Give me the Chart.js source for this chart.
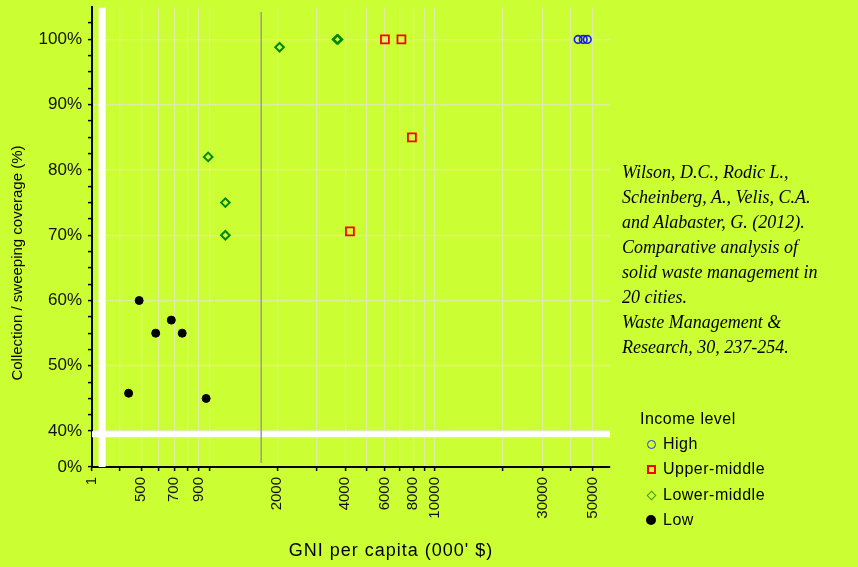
<!DOCTYPE html>
<html>
<head>
<meta charset="utf-8">
<script src="https://cdn.jsdelivr.net/npm/chart.js@4/dist/chart.umd.min.js"></script>
<style>
  body { margin: 0; background: #ccff33; }
  #wrap { position: relative; width: 858px; height: 567px; background: #ccff33; overflow: hidden;
          font-family: Arial, "Liberation Sans", sans-serif; color: #000; }
  #chart { position: absolute; left: 0; top: 0; }
  .txt { position: absolute; white-space: nowrap; }
  #ytitle { left: -113px; top: 254px; width: 260px; height: 18px; line-height: 18px; text-align: center;
            font-size: 15px; color: #000; transform: rotate(-90deg); }
  #xtitle { left: 391px; top: 550px; font-size: 18px; letter-spacing: 1px; transform: translate(-50%, -50%); }
  #cite { left: 622px; top: 160px; font-family: "Liberation Serif", "Times New Roman", serif; font-style: italic;
          font-size: 18px; line-height: 25px; white-space: pre; }
  .leg { position: absolute; left: 640px; font-size: 16px; letter-spacing: 0.5px; line-height: 20px; white-space: nowrap; }
  .mk { position: absolute; box-sizing: border-box; }
</style>
</head>
<body>
<div id="wrap">
  <canvas id="chart" width="858" height="567"></canvas>
  <div id="ytitle" class="txt">Collection / sweeping coverage (%)</div>
  <div id="xtitle" class="txt">GNI per capita (000' $)</div>
  <div id="cite" class="txt"></div>
  <div id="legend"></div>
</div>
<script>
// GNI per capita (x) and coverage % (y) per income group
const highGNI = [43000, 45300, 47200];
const highCov = [100, 100, 100];
const upperGNI = [6000, 7100, 7900, 4200];
const upperCov = [100, 100, 85, 70.6];
const lowerGNI = [990, 1180, 1180, 2050, 3680, 3720];
const lowerCov = [82, 75, 70, 98.8, 100, 100];
const lowGNI = [490, 680, 580, 760, 440, 970];
const lowCov = [60, 57, 55, 55, 45.8, 45];

const seriesNames = ["High", "Upper-middle", "Lower-middle", "Low"];

// axis ticks
const xGridValues = [400, 500, 600, 700, 800, 900, 1000, 2000, 3000, 4000, 5000, 6000, 7000, 8000, 9000, 10000, 20000, 30000, 40000, 50000];
const xLabelValues = [500, 700, 900, 2000, 4000, 6000, 8000, 10000, 30000, 50000];
const yLabelValues = [40, 50, 60, 70, 80, 90, 100];

// broken axes: left stub stands for "1", bottom stub for "0%"
const xMin = 303, xMax = 59500;
const yMin = 34.5, yMax = 104.9;
const xBreak = 336, yBreak = 39.5;
const divider = 1700;

const citation = [
  "Wilson, D.C., Rodic L.,",
  "Scheinberg, A., Velis, C.A.",
  "and Alabaster, G. (2012).",
  "Comparative analysis of",
  "solid waste management in",
  "20 cities.",
  "Waste Management &",
  "Research, 30, 237-254."
];

const gridColor = "#dfeaa6";
const toPoints = (xs, ys) => xs.map((x, i) => ({ x: x, y: ys[i] }));

document.getElementById("cite").textContent = citation.join("\n");

Chart.defaults.font.family = 'Arial, "Liberation Sans", sans-serif';
Chart.defaults.color = "#111";

const ctx = document.getElementById("chart").getContext("2d");
new Chart(ctx, {
  type: "scatter",
  data: {
    datasets: [
      {
        label: seriesNames[0], data: toPoints(highGNI, highCov), order: 0,
        pointStyle: "circle", radius: 3.8, borderColor: "#1515ff", backgroundColor: "transparent", borderWidth: 1.6,
      },
      {
        label: seriesNames[1], data: toPoints(upperGNI, upperCov), order: 0,
        pointStyle: "rect", radius: 5.6, borderColor: "#ff0000", backgroundColor: "transparent", borderWidth: 1.8,
      },
      {
        label: seriesNames[2], data: toPoints(lowerGNI, lowerCov), order: 0,
        pointStyle: "rectRot", radius: 4.3, borderColor: "#008a00", backgroundColor: "transparent", borderWidth: 2,
      },
      {
        label: seriesNames[3], data: toPoints(lowGNI, lowCov), order: 0,
        pointStyle: "circle", radius: 4, borderColor: "#000", backgroundColor: "#000", borderWidth: 1,
      },
      {
        label: "divider", data: [{ x: divider, y: 35.1 }, { x: divider, y: 104.2 }], order: 2,
        showLine: true, radius: 0, borderColor: "#9a9a9a", borderWidth: 1.5,
      },
      {
        label: "xbreak", data: [{ x: xBreak, y: yMin }, { x: xBreak, y: yMax }], order: 3,
        showLine: true, radius: 0, borderColor: "#ffffff", borderWidth: 7,
      },
      {
        label: "ybreak", data: [{ x: xMin, y: yBreak }, { x: xMax, y: yBreak }], order: 3,
        showLine: true, radius: 0, borderColor: "#ffffff", borderWidth: 6,
      },
    ],
  },
  options: {
    responsive: false,
    animation: false,
    events: [],
    layout: { padding: { left: 0, top: 5, right: 248, bottom: 0 } },
    plugins: {
      legend: { display: false },
      tooltip: { enabled: false },
    },
    scales: {
      x: {
        type: "logarithmic",
        min: xMin,
        max: xMax,
        afterBuildTicks: (scale) => {
          scale.ticks = [xMin].concat(xGridValues).map((v) => ({ value: v }));
        },
        afterFit: (scale) => {
          scale.height = 100;
          scale.paddingLeft = 0;
          scale.paddingRight = 0;
        },
        ticks: {
          autoSkip: false,
          maxRotation: 90,
          minRotation: 90,
          padding: 6,
          font: { size: 15 },
          color: "#111",
          callback: (value) => {
            if (value === xMin) return "1";
            return xLabelValues.includes(value) ? String(value) : "";
          },
        },
        grid: {
          color: (c) => (c.tick && xGridValues.includes(c.tick.value) ? gridColor : "transparent"),
          lineWidth: 1.2,
          tickColor: "#000",
          tickLength: 4,
          tickWidth: 1.5,
        },
        border: { display: true, color: "#000", width: 2 },
      },
      y: {
        type: "linear",
        min: yMin,
        max: yMax,
        afterBuildTicks: (scale) => {
          const t = [{ value: yMin }];
          for (let v = 40; v <= 104; v += 2.5) t.push({ value: v });
          scale.ticks = t;
        },
        afterFit: (scale) => {
          scale.width = 92;
          scale.paddingTop = 0;
          scale.paddingBottom = 0;
        },
        ticks: {
          autoSkip: false,
          padding: 6,
          font: { size: 17 },
          color: "#111",
          callback: (value) => {
            if (value === yMin) return "0%";
            return yLabelValues.includes(value) ? value + "%" : "";
          },
        },
        grid: {
          color: (c) => (c.tick && yLabelValues.includes(c.tick.value) ? gridColor : "transparent"),
          lineWidth: 1.2,
          tickColor: "#000",
          tickLength: 4,
          tickWidth: 1.5,
        },
        border: { display: true, color: "#000", width: 2 },
      },
    },
  },
});

// legend built from the series names
const markers = [
  { w: 9, h: 9, css: "border:1.6px solid #2a2aff;border-radius:50%;" },
  { w: 9, h: 9, css: "border:2px solid #ff0000;" },
  { w: 7, h: 7, css: "border:1.6px solid #3a9a1a;transform:rotate(45deg);" },
  { w: 10, h: 10, css: "background:#000;border-radius:50%;" },
];
const itemY = [444, 469, 495, 520];
let html = '<div class="leg" style="top:409px">Income level</div>';
seriesNames.forEach((name, i) => {
  const m = markers[i];
  html += '<div class="mk" style="left:' + (651 - m.w / 2) + 'px;top:' + (itemY[i] - m.h / 2) + 'px;width:' + m.w + 'px;height:' + m.h + 'px;' + m.css + '"></div>';
  html += '<div class="leg" style="left:663px;top:' + (itemY[i] - 10) + 'px">' + name + '</div>';
});
document.getElementById("legend").innerHTML = html;
</script>
</body>
</html>
